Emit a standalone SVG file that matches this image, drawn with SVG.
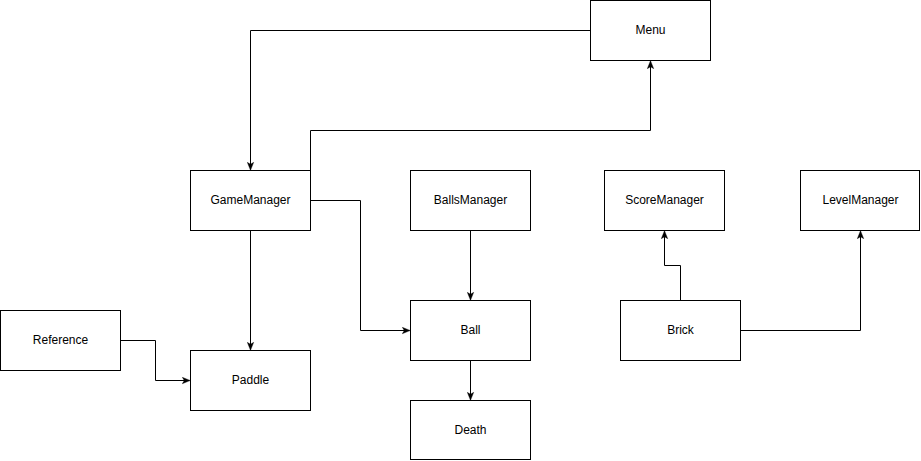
<svg xmlns="http://www.w3.org/2000/svg" width="921" height="461" viewBox="0 0 921 461">
<style>
.n rect{fill:#fff;stroke:#000;stroke-width:1}
.n text{font-family:"Liberation Sans",Arial,sans-serif;font-size:12px;fill:#000;text-anchor:middle;dominant-baseline:central}
.c path{fill:none;stroke:#000;stroke-width:1}
</style>
<defs>
<marker id="a" viewBox="0 0 10 10" refX="9" refY="5" markerWidth="8" markerHeight="8" markerUnits="userSpaceOnUse" orient="auto">
<path d="M0,1 L10,5 L0,9 L2.5,5 z" fill="#000" stroke="#000" stroke-width="0.5"/>
</marker>
</defs>
<rect width="921" height="461" fill="#fff"/>
<g transform="translate(0.5,0.5)">
<g class="c" id="connectors">
<path d="M590,30 H250 V169" marker-end="url(#a)"/>
<path d="M310,170 V130 H650 V61" marker-end="url(#a)"/>
<path d="M310,200 H360 V330 H409" marker-end="url(#a)"/>
<path d="M250,230 V349" marker-end="url(#a)"/>
<path d="M120,340 H155 V380 H189" marker-end="url(#a)"/>
<path d="M470,230 V299" marker-end="url(#a)"/>
<path d="M470,360 V399" marker-end="url(#a)"/>
<path d="M680,300 V265 H664 V231" marker-end="url(#a)"/>
<path d="M740,330 H860 V231" marker-end="url(#a)"/>
</g>
<g class="n" id="menu"><rect x="590" y="0" width="120" height="60"/><text x="650" y="29">Menu</text></g>
<g class="n" id="gamemanager"><rect x="190" y="170" width="120" height="60"/><text x="250" y="199">GameManager</text></g>
<g class="n" id="ballsmanager"><rect x="410" y="170" width="120" height="60"/><text x="470" y="199">BallsManager</text></g>
<g class="n" id="scoremanager"><rect x="604" y="170" width="120" height="60"/><text x="664" y="199">ScoreManager</text></g>
<g class="n" id="levelmanager"><rect x="800" y="170" width="119" height="60"/><text x="860" y="199">LevelManager</text></g>
<g class="n" id="reference"><rect x="0" y="310" width="120" height="60"/><text x="60" y="339">Reference</text></g>
<g class="n" id="paddle"><rect x="190" y="350" width="120" height="60"/><text x="250" y="379">Paddle</text></g>
<g class="n" id="ball"><rect x="410" y="300" width="120" height="60"/><text x="470" y="329">Ball</text></g>
<g class="n" id="brick"><rect x="620" y="300" width="120" height="60"/><text x="680" y="329">Brick</text></g>
<g class="n" id="death"><rect x="410" y="400" width="120" height="59"/><text x="470" y="429">Death</text></g>
</g>
</svg>
